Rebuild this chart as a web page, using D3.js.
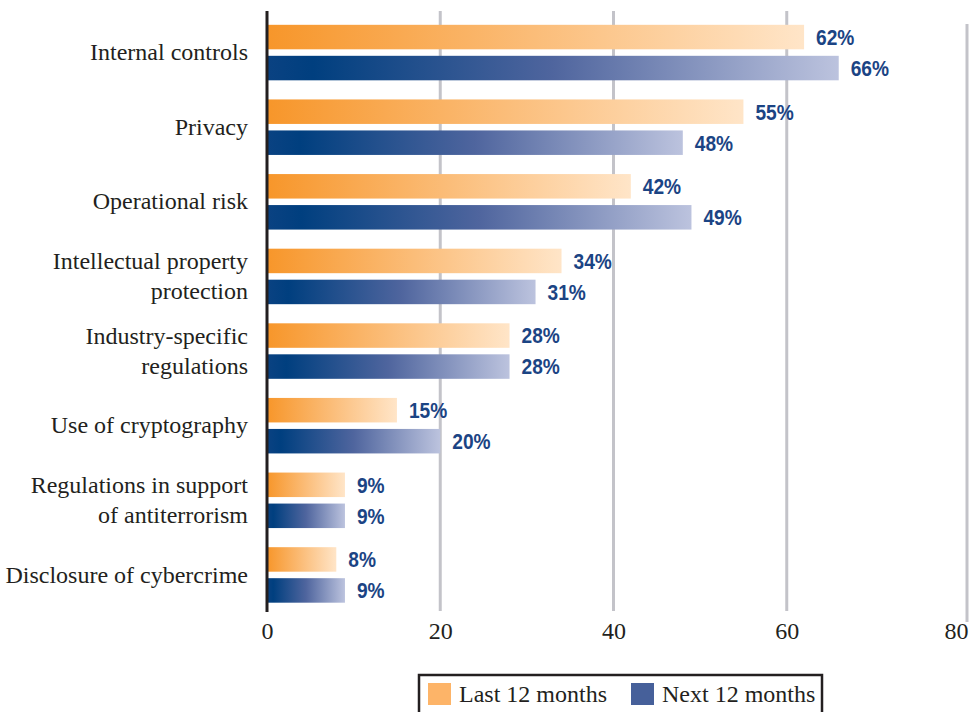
<!DOCTYPE html>
<html>
<head>
<meta charset="utf-8">
<script src="https://cdn.jsdelivr.net/npm/d3@7/dist/d3.min.js"></script>
<style>
  html, body { margin: 0; padding: 0; background: #ffffff; }
  svg { display: block; }
</style>
</head>
<body>
<svg id="chart" width="969" height="712"></svg>
<script>
// Share of respondents citing each area (percent)
const categories = [
  ["Internal controls"],
  ["Privacy"],
  ["Operational risk"],
  ["Intellectual property", "protection"],
  ["Industry-specific", "regulations"],
  ["Use of cryptography"],
  ["Regulations in support", "of antiterrorism"],
  ["Disclosure of cybercrime"]
];
const last12 = [62, 55, 42, 34, 28, 15, 9, 8];
const next12 = [66, 48, 49, 31, 28, 20, 9, 9];
const seriesNames = ["Last 12 months", "Next 12 months"];
const xTicks = [0, 20, 40, 60, 80];

const svg = d3.select("#chart");
const serif = "'Liberation Serif', 'Times New Roman', serif";
const sans = "'Liberation Sans', Arial, sans-serif";

const x = d3.scaleLinear().domain([0, 80]).range([267, 960]);
const y = d3.scaleBand().domain(d3.range(categories.length)).range([15, 612]).padding(0);

// Bar gradients, stretched along each bar
const defs = svg.append("defs");
const gOrange = defs.append("linearGradient").attr("id", "gradOrange")
  .attr("x1", "0%").attr("x2", "100%").attr("y1", "0%").attr("y2", "0%");
[[0, "#f7962a"], [0.5, "#fbbd79"], [1, "#ffe5c8"]].forEach(([o, c]) =>
  gOrange.append("stop").attr("offset", o).attr("stop-color", c));
const gBlue = defs.append("linearGradient").attr("id", "gradBlue")
  .attr("x1", "0%").attr("x2", "100%").attr("y1", "0%").attr("y2", "0%");
[[0, "#0a4282"], [0.08, "#003f7f"], [0.5, "#4f659e"], [1, "#bcc3de"]].forEach(([o, c]) =>
  gBlue.append("stop").attr("offset", o).attr("stop-color", c));

// Vertical gridlines
svg.append("g").selectAll("line")
  .data(xTicks.filter(t => t > 0 && t < 80))
  .join("line")
  .attr("x1", d => x(d)).attr("x2", d => x(d))
  .attr("y1", 11).attr("y2", 611)
  .attr("stroke", "#c3c3c9").attr("stroke-width", 3);

// Right frame edge of the plot area
svg.append("line")
  .attr("x1", x(80) + 7).attr("x2", x(80) + 7)
  .attr("y1", 24).attr("y2", 622)
  .attr("stroke", "#c3c3c9").attr("stroke-width", 3);

const barH = 24.5;
const rows = categories.map((c, i) => ({ i, c, a: last12[i], b: next12[i] }));
const yLast = d => y(d.i) + y.bandwidth() / 2 - 27.5;
const yNext = d => y(d.i) + y.bandwidth() / 2 + 3.5;

// Bars
const bars = svg.append("g");
bars.selectAll("rect.last")
  .data(rows).join("rect").attr("class", "last")
  .attr("x", x(0)).attr("y", yLast)
  .attr("width", d => x(d.a) - x(0)).attr("height", barH)
  .attr("fill", "url(#gradOrange)");
bars.selectAll("rect.next")
  .data(rows).join("rect").attr("class", "next")
  .attr("x", x(0)).attr("y", yNext)
  .attr("width", d => x(d.b) - x(0)).attr("height", barH)
  .attr("fill", "url(#gradBlue)");

// Value labels (bold, horizontally condensed)
const lab = svg.append("g")
  .attr("font-family", sans).attr("font-weight", "bold")
  .attr("font-size", 22).attr("fill", "#1b4484");
lab.selectAll("text.last")
  .data(rows).join("text").attr("class", "last")
  .attr("transform", d => `translate(${x(d.a) + 12},${yLast(d) + barH / 2}) scale(0.87,1)`)
  .attr("dy", "0.36em")
  .text(d => d.a + "%");
lab.selectAll("text.next")
  .data(rows).join("text").attr("class", "next")
  .attr("transform", d => `translate(${x(d.b) + 12},${yNext(d) + barH / 2}) scale(0.87,1)`)
  .attr("dy", "0.36em")
  .text(d => d.b + "%");

// Category labels
const cat = svg.append("g")
  .attr("font-family", serif).attr("font-size", 24)
  .attr("fill", "#231f20").attr("text-anchor", "end");
rows.forEach(d => {
  const cy = y(d.i) + y.bandwidth() / 2;
  const n = d.c.length;
  d.c.forEach((line, k) => {
    cat.append("text")
      .attr("x", 248)
      .attr("y", cy + (k - (n - 1) / 2) * 30)
      .attr("dy", "0.33em")
      .text(line);
  });
});

// Category axis line
svg.append("line")
  .attr("x1", x(0)).attr("x2", x(0))
  .attr("y1", 11).attr("y2", 612)
  .attr("stroke", "#231f20").attr("stroke-width", 3);

// X tick labels
const xAxis = d3.axisBottom(x).tickValues(xTicks).tickSize(0).tickPadding(0);
const ax = svg.append("g").attr("transform", "translate(0,622)").call(xAxis);
ax.select(".domain").remove();
ax.selectAll("text")
  .attr("font-family", serif).attr("font-size", 24)
  .attr("fill", "#231f20").attr("dy", "0.71em");
// keep the last tick label inside the page edge
ax.selectAll(".tick").filter(d => d === 80).select("text")
  .attr("text-anchor", "end").attr("x", 8);

// Legend
const leg = svg.append("g");
leg.append("rect")
  .attr("x", 419).attr("y", 675).attr("width", 403).attr("height", 45)
  .attr("fill", "#ffffff").attr("stroke", "#231f20").attr("stroke-width", 2.5);
const legendItems = [
  { name: seriesNames[0], color: "#fdb468", x: 428 },
  { name: seriesNames[1], color: "#46609a", x: 631 }
];
legendItems.forEach(it => {
  leg.append("rect").attr("x", it.x).attr("y", 683)
    .attr("width", 23).attr("height", 22).attr("fill", it.color);
  leg.append("text").attr("x", it.x + 31).attr("y", 702)
    .attr("font-family", serif).attr("font-size", 24).attr("fill", "#231f20")
    .text(it.name);
});
</script>
</body>
</html>
